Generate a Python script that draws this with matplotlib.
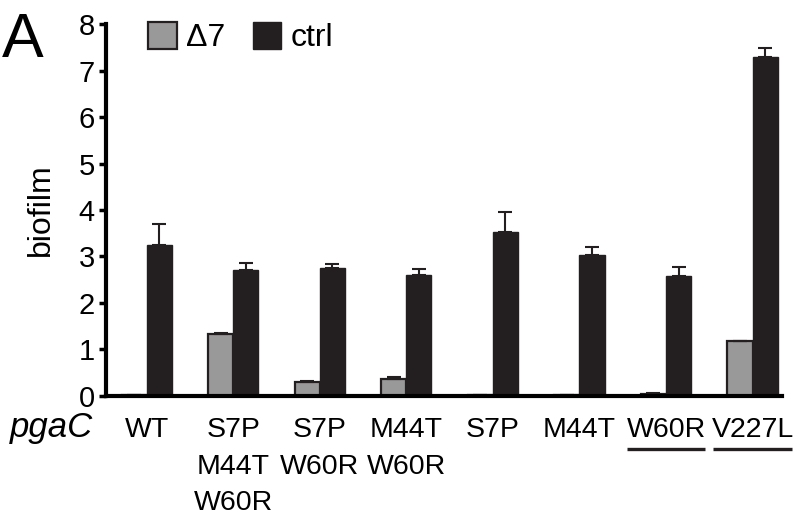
import numpy as np
import matplotlib; matplotlib.use("Agg")
import matplotlib.pyplot as plt
from matplotlib.transforms import blended_transform_factory
from matplotlib.patches import Patch

plt.rcParams.update({"font.family": ["Liberation Sans", "DejaVu Sans"]})

# biofilm per pgaC allele, Δ7 strain vs control
labels = ["WT", "S7P\nM44T\nW60R", "S7P\nW60R", "M44T\nW60R", "S7P", "M44T", "W60R", "V227L"]
d7 = [0.03, 1.33, 0.30, 0.36, 0.03, 0.02, 0.05, 1.18]
d7_err = [0.0, 0.03, 0.02, 0.04, 0.0, 0.0, 0.01, 0.0]
ctrl = [3.25, 2.70, 2.76, 2.60, 3.53, 3.03, 2.58, 7.30]
ctrl_err = [0.45, 0.17, 0.07, 0.13, 0.42, 0.17, 0.19, 0.18]
underlined = ["W60R", "V227L"]

GRAY = "#999999"; BLACK = "#231f20"
FS = 20.5
fig = plt.figure(figsize=(7.99, 5.22), dpi=100)
ax = fig.add_axes([0.1327, 0.2414, 0.846, 0.7126])

x = np.arange(len(labels))
w = 0.29
ekw = dict(ecolor=BLACK, lw=1.5, capsize=5, capthick=1.5)
ax.bar(x - w/2, d7, w, color=GRAY, edgecolor=BLACK, lw=1.6,
       yerr=[np.zeros(len(d7)), d7_err], error_kw=ekw)
ax.bar(x + w/2, ctrl, w, color=BLACK, edgecolor=BLACK, lw=1.0,
       yerr=[np.zeros(len(ctrl)), ctrl_err], error_kw=ekw)

ax.set_xlim(-0.47, 7.34)
ax.set_ylim(0, 8)
ax.set_yticks(range(9))
ax.tick_params(axis="y", labelsize=21, width=2.5, length=5, direction="out", pad=3)
ax.set_xticks([])
for s in ("top", "right"):
    ax.spines[s].set_visible(False)
for s in ("left", "bottom"):
    ax.spines[s].set_linewidth(3)
fig.text(0.0513, 0.598, "biofilm", rotation=90, ha="center", va="center", fontsize=23)

# allele labels under the axis, one text per line
tr = blended_transform_factory(ax.transData, fig.transFigure)
base, step = 0.1628, 0.0699
for xi, lab in zip(x, labels):
    for i, line in enumerate(lab.split("\n")):
        ax.text(xi, base - i*step, line, transform=tr, ha="center", va="baseline", fontsize=FS)
    if lab in underlined:
        ax.plot([xi - 0.455, xi + 0.455], [0.1408, 0.1408], transform=tr, color=BLACK,
                lw=2.4, solid_capstyle="butt", clip_on=False)
fig.text(0.0125, base, "pgaC", style="italic", fontsize=25, va="baseline", ha="left")

fig.text(0.002, 0.891, "A", fontsize=45, va="baseline", ha="left")
ax.legend(handles=[Patch(fc=GRAY, ec=BLACK, lw=1.6), Patch(fc=BLACK, ec=BLACK)],
          labels=["Δ7", "ctrl"], loc="upper left", bbox_to_anchor=(0.062, 1.005),
          borderaxespad=0, borderpad=0, ncol=2, frameon=False, fontsize=23,
          handlelength=0.9, handleheight=0.9, handletextpad=0.3, columnspacing=0.85)

fig.savefig("out.png", dpi=100)
